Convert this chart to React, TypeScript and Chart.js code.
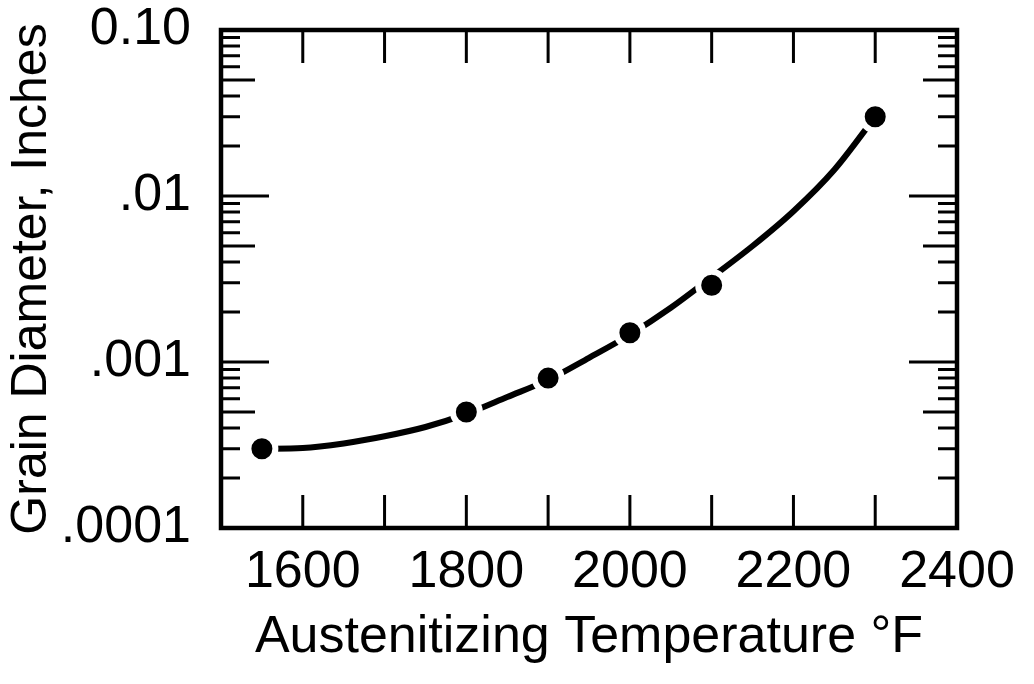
import React, { useEffect, useRef } from "react";
import { Chart, registerables } from "chart.js";

Chart.register(...registerables);

// ---- data: measured points ----
const temperaturesF = [1550, 1800, 1900, 2000, 2100, 2300];
const grainDiameterIn = [0.0003, 0.0005, 0.0008, 0.0015, 0.0029, 0.03];

// ---- data: hand-drawn fitted curve, every 50 °F ----
const curveTemperaturesF = [1550, 1600, 1650, 1700, 1750, 1800, 1850, 1900, 1950, 2000, 2050, 2100, 2150, 2200, 2250, 2300];
const curveDiameterIn = [0.0003, 0.000303, 0.000323, 0.000357, 0.000406, 0.000487, 0.000615, 0.00078, 0.00106, 0.00146, 0.00212, 0.00324, 0.005, 0.0081, 0.0144, 0.03];

const xTickValues = [1600, 1800, 2000, 2200, 2400];
const xMinorTickValues = [1600, 1700, 1800, 1900, 2000, 2100, 2200, 2300];
const yTickValues = [0.0001, 0.001, 0.01, 0.1];
const yTickLabels = [".0001", ".001", ".01", "0.10"];
const yDecades = [0.0001, 0.001, 0.01];
const yMinorMultipliers = [2, 3, 4, 5, 6, 7, 8, 9];

const xTitle = "Austenitizing Temperature °F";
const yTitle = "Grain Diameter, Inches";

const FONT = "'Liberation Sans', Arial, sans-serif";

const framePlugin = {
  id: "frameAndInnerTicks",
  afterDraw(chart: any) {
    const { ctx, chartArea } = chart;
    const xs = chart.scales.x;
    const ys = chart.scales.y;
    const { left, right, top, bottom } = chartArea;
    ctx.save();
    ctx.strokeStyle = "#000";
    ctx.lineCap = "butt";
    ctx.lineWidth = 3;
    const xLen = 33;
    xMinorTickValues.forEach((v) => {
      const px = xs.getPixelForValue(v);
      ctx.beginPath();
      ctx.moveTo(px, top);
      ctx.lineTo(px, top + xLen);
      ctx.moveTo(px, bottom);
      ctx.lineTo(px, bottom - xLen);
      ctx.stroke();
    });
    const drawY = (v: number, len: number) => {
      const py = ys.getPixelForValue(v);
      ctx.beginPath();
      ctx.moveTo(left, py);
      ctx.lineTo(left + len, py);
      ctx.moveTo(right, py);
      ctx.lineTo(right - len, py);
      ctx.stroke();
    };
    yDecades.forEach((d, i) => {
      if (i > 0) drawY(d, 48);
      yMinorMultipliers.forEach((m) => drawY(m * d, m === 5 ? 34 : 19));
    });
    ctx.lineWidth = 4.5;
    ctx.strokeRect(left, top, right - left, bottom - top);
    ctx.restore();
  },
};

export default function App() {
  const canvasRef = useRef<HTMLCanvasElement | null>(null);

  useEffect(() => {
    document.body.style.margin = "0";
    const canvas = canvasRef.current;
    if (!canvas) return;
    const chart = new Chart(canvas, {
      type: "line",
      data: {
        datasets: [
          {
            label: "Measured",
            order: 0,
            showLine: false,
            data: temperaturesF.map((t, i) => ({ x: t, y: grainDiameterIn[i] })),
            pointRadius: 13.5,
            pointHoverRadius: 13.5,
            pointBackgroundColor: "#000",
            pointBorderColor: "#fff",
            pointBorderWidth: 6,
            pointHoverBorderWidth: 6,
          },
          {
            label: "Curve",
            order: 1,
            data: curveTemperaturesF.map((t, i) => ({ x: t, y: curveDiameterIn[i] })),
            borderColor: "#000",
            borderWidth: 6,
            borderCapStyle: "round",
            cubicInterpolationMode: "monotone",
            pointRadius: 0,
            pointHoverRadius: 0,
            fill: false,
          },
        ],
      },
      plugins: [framePlugin],
      options: {
        animation: false,
        responsive: false,
        events: [],
        layout: { padding: { left: 0, top: 30, right: 77, bottom: 0 } },
        plugins: {
          legend: { display: false },
          tooltip: { enabled: false },
        },
        scales: {
          x: {
            type: "linear",
            min: 1500,
            max: 2400,
            grid: { display: false, drawTicks: false },
            border: { display: false },
            afterBuildTicks: (scale: any) => {
              scale.ticks = xTickValues.map((v) => ({ value: v }));
            },
            afterFit: (scale: any) => {
              scale.height = 156;
              scale.paddingLeft = 0;
              scale.paddingRight = 0;
            },
            ticks: {
              color: "#000",
              padding: 13,
              maxRotation: 0,
              autoSkip: false,
              font: { family: FONT, size: 52 },
              callback: (v: any) => String(v),
            },
            title: {
              display: true,
              text: xTitle,
              color: "#000",
              font: { family: FONT, size: 52, lineHeight: 1.2 },
              padding: { top: 0, bottom: 15 },
            },
          },
          y: {
            type: "logarithmic",
            min: 0.0001,
            max: 0.1,
            grid: { display: false, drawTicks: false },
            border: { display: false },
            afterBuildTicks: (scale: any) => {
              scale.ticks = yTickValues.map((v) => ({ value: v }));
            },
            afterFit: (scale: any) => {
              scale.width = 221;
              scale.paddingTop = 0;
              scale.paddingBottom = 0;
            },
            ticks: {
              color: "#000",
              padding: 30,
              autoSkip: false,
              font: { family: FONT, size: 52 },
              callback: (v: any) => {
                const i = yTickValues.findIndex((t) => Math.abs(t - v) / t < 1e-6);
                return i >= 0 ? yTickLabels[i] : "";
              },
            },
            title: {
              display: true,
              text: yTitle,
              color: "#000",
              font: { family: FONT, size: 50, lineHeight: 1.2 },
              padding: { top: 2, bottom: 0 },
            },
          },
        },
      } as any,
    });
    return () => chart.destroy();
  }, []);

  return (
    <div style={{ position: "fixed", left: 0, top: 0, width: 1034, height: 684, background: "#fff" }}>
      <canvas ref={canvasRef} width={1034} height={684} style={{ display: "block" }} />
    </div>
  );
}
